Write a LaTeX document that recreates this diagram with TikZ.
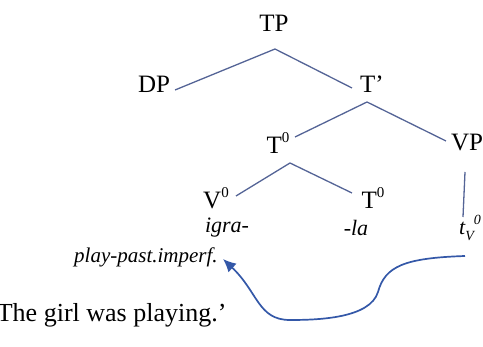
\documentclass[tikz,border=0pt]{standalone}
\usepackage{fontspec}
\setmainfont{Liberation Serif}
\usetikzlibrary{arrows.meta}
\definecolor{treeline}{RGB}{84,100,150}
\definecolor{arrowblue}{RGB}{52,88,168}
\tikzset{
  lab/.style={inner sep=0pt, font=\fontsize{25}{28}\selectfont},
  itlab/.style={inner sep=0pt, font=\fontsize{22}{25}\selectfont\itshape},
  edge/.style={draw=treeline, line width=1.3pt},
  mv/.style={draw=arrowblue, line width=1.7pt, -{Latex[length=13pt,width=12pt]}}
}
\newcommand{\supz}{\raisebox{0.45em}{\fontsize{15}{16}\selectfont 0}}
\begin{document}
\begin{tikzpicture}[x=1pt,y=-1pt]
\useasboundingbox (0,0) rectangle (483,347);
\begin{scope}
\clip (0,0) rectangle (483,347);
\node[lab] (tp) at (274,23) {TP};
\node[lab] (dp) at (154,84) {DP};
\node[lab] (tb) at (372,84) {T’};
\node[lab] (t0) at (278,143) {T\supz};
\node[lab] (vp) at (467,143) {VP};
\node[lab] (v0) at (216,198) {V\supz};
\node[lab] (t0b) at (373,198) {T\supz};
\node[itlab] (igra) at (227,228) {igra-};
\node[itlab] (la) at (356,228) {-la};
\node[itlab] (tv) at (470,228) {t\raisebox{-0.25em}{\fontsize{14}{15}\selectfont V}\raisebox{0.45em}{\fontsize{14}{15}\selectfont 0}};
\node[itlab, anchor=west, font=\fontsize{21}{24}\selectfont\itshape] (gloss) at (74,257) {play-past.imperf.};
\node[lab, anchor=west, font=\fontsize{26}{28}\selectfont] (trans) at (-12,315) {‘The girl was playing.’};

\coordinate (tpa) at (275,49);
\coordinate (dpe) at (175,90);
\coordinate (tbe) at (352,88);
\coordinate (tba) at (367,102);
\coordinate (t0e) at (295,137);
\coordinate (vpe) at (446,141);
\coordinate (t0a) at (290,163);
\coordinate (v0e) at (236,196);
\coordinate (t0be) at (352,193);
\coordinate (vpa) at (465,172);
\coordinate (tve) at (463,217);
\coordinate (mvs) at (465,256);
\coordinate (mvm) at (290,320);
\coordinate (mvt) at (223,259);

\draw[edge] (dpe) -- (tpa) -- (tbe);
\draw[edge] (t0e) -- (tba) -- (vpe);
\draw[edge] (v0e) -- (t0a) -- (t0be);
\draw[edge] (vpa) -- (tve);
\draw[mv] (mvs) .. controls (405,258) and (385,266) .. (378,292)
  .. controls (370,318) and (320,320) .. (mvm)
  .. controls (258,320) and (258,292) .. (mvt);
\end{scope}
\end{tikzpicture}
\end{document}
